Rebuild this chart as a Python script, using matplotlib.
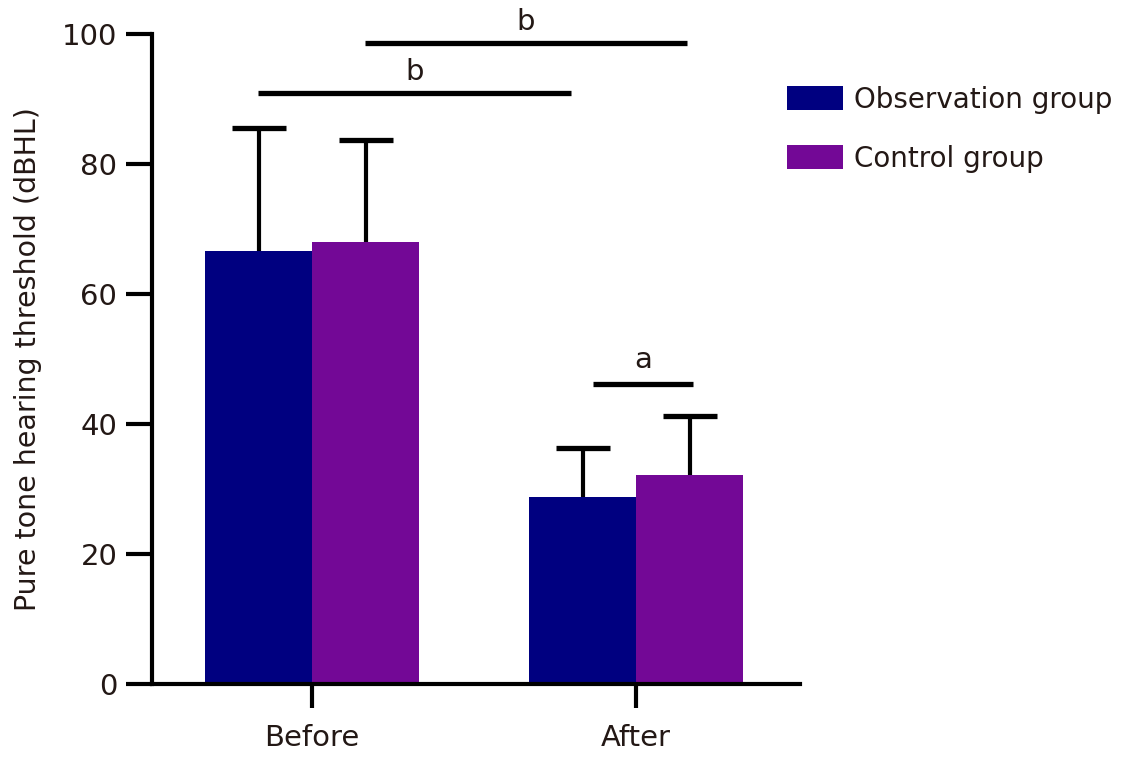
import numpy as np
import matplotlib
matplotlib.use("Agg")
import matplotlib.pyplot as plt

# data
groups = ["Before", "After"]
obs_mean = [66.6, 28.8]
obs_err = [18.9, 7.5]
ctrl_mean = [68.0, 32.2]
ctrl_err = [15.7, 9.0]
series_names = ["Observation group", "Control group"]
colors = ["#000080", "#730896"]

# significance markers: (x0, x1, y, label, label_y)
sig = [
    (0.164, 1.157, 98.6, "b", 101.8),
    (-0.167, 0.80, 90.9, "b", 94.2),
    (0.867, 1.176, 46.2, "a", 49.8),
]

txt = "#231815"
plt.rcParams["font.family"] = ["DejaVu Sans"]
fig = plt.figure(figsize=(11.23, 7.68), dpi=100)
ax = fig.add_axes([152 / 1123, 84 / 768, 648 / 1123, 650 / 768])

x = np.arange(len(groups))
w = 0.33
for i, (m, e) in enumerate([(obs_mean, obs_err), (ctrl_mean, ctrl_err)]):
    xs = x + (i - 0.5) * w
    ax.bar(xs, m, width=w, color=colors[i], label=series_names[i], zorder=2)
    eb = ax.errorbar(xs, m, yerr=[np.zeros(len(e)), e], fmt="none", ecolor="black",
                     elinewidth=3, capsize=19.5, capthick=3.8, zorder=1)
    # only the upper cap is shown
    eb[1][0].set_visible(False)

for x0, x1, y, lab, ly in sig:
    ax.plot([x0, x1], [y, y], color="black", lw=3.8, solid_capstyle="butt", clip_on=False)
    ax.text((x0 + x1) / 2, ly, lab, ha="center", va="center", fontsize=21, color=txt)

ax.set_xlim(-0.494, 1.506)
ax.set_ylim(0, 100)
ax.set_yticks([0, 20, 40, 60, 80, 100])
ax.set_xticks(x)
ax.set_xticklabels(groups)
ax.set_ylabel("Pure tone hearing threshold (dBHL)", fontsize=20.5, color=txt, labelpad=14)

for s in ["top", "right"]:
    ax.spines[s].set_visible(False)
for s in ["left", "bottom"]:
    ax.spines[s].set_linewidth(3)
ax.tick_params(axis="y", length=19, width=3, labelsize=21, labelcolor=txt, pad=6)
ax.tick_params(axis="x", length=17, width=3, labelsize=21, labelcolor=txt, pad=12)

fig.legend(loc="upper left", bbox_to_anchor=(787 / 1123, 1 - 86 / 768), frameon=False,
           fontsize=20, handlelength=2.0, handleheight=0.95, labelspacing=1.1,
           handletextpad=0.4, borderpad=0, borderaxespad=0, labelcolor=txt)

fig.savefig("out.png", dpi=100)
